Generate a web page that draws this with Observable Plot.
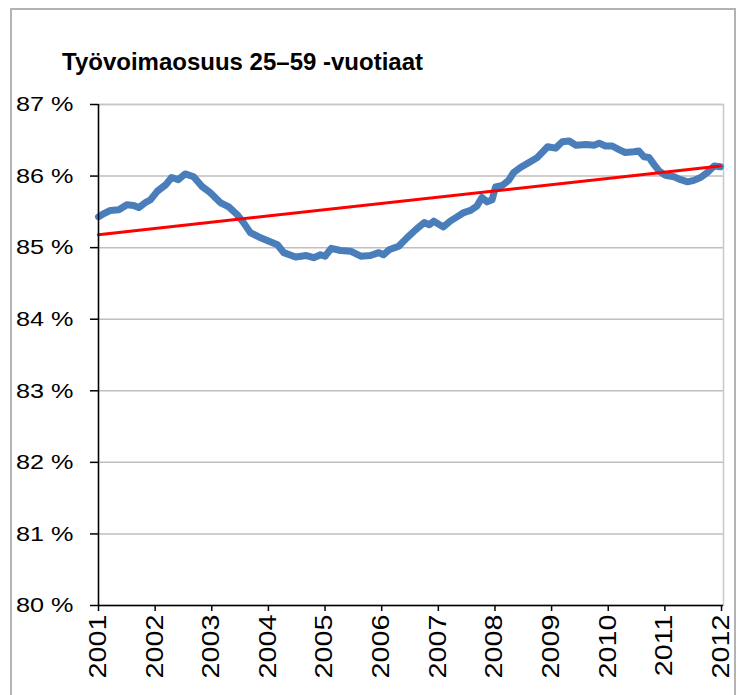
<!DOCTYPE html>
<html>
<head>
<meta charset="utf-8">
<script src="https://cdn.jsdelivr.net/npm/d3@7"></script>
<script src="https://cdn.jsdelivr.net/npm/@observablehq/plot@0.6"></script>
<style>
  html, body { margin: 0; padding: 0; background: #fff; }
  #wrap { position: relative; width: 738px; height: 695px; overflow: hidden; background: #fff; }
  #title { height: 88px; box-sizing: border-box; padding: 47px 0 0 62px; font: bold 24px/30px "Liberation Sans", Arial, sans-serif; color: #000; white-space: nowrap; }
  #border { position: absolute; left: 10px; top: 8px; width: 726px; height: 700px; box-sizing: border-box; border: 2px solid #b3b3b3; pointer-events: none; }
  svg { display: block; }
</style>
</head>
<body>
<div id="wrap">
  <div id="title">Työvoimaosuus 25–59 -vuotiaat</div>
  <div id="chart"></div>
  <div id="border"></div>
</div>
<script>
const title = "Työvoimaosuus 25–59 -vuotiaat";
const xTicks = [2001, 2002, 2003, 2004, 2005, 2006, 2007, 2008, 2009, 2010, 2011, 2012];
const yTicks = [80, 81, 82, 83, 84, 85, 86, 87];

const years = [
  2001.00, 2001.06, 2001.21, 2001.36, 2001.50, 2001.62, 2001.71, 2001.83, 2001.92,
  2002.04, 2002.19, 2002.29, 2002.41, 2002.53, 2002.68, 2002.82, 2002.97,
  2003.15, 2003.30, 2003.45, 2003.56, 2003.68, 2003.83,
  2004.01, 2004.16, 2004.27, 2004.48, 2004.67, 2004.80, 2004.92,
  2005.00, 2005.11, 2005.27, 2005.45, 2005.63, 2005.80, 2005.95,
  2006.03, 2006.13, 2006.30, 2006.45, 2006.60, 2006.75, 2006.84, 2006.92,
  2007.00, 2007.09, 2007.21, 2007.33, 2007.45, 2007.57, 2007.68, 2007.77, 2007.86, 2007.95,
  2008.01, 2008.13, 2008.24, 2008.33, 2008.45, 2008.60, 2008.75, 2008.93,
  2009.07, 2009.19, 2009.31, 2009.43, 2009.61, 2009.75, 2009.84, 2009.95,
  2010.07, 2010.19, 2010.30, 2010.45, 2010.54, 2010.63, 2010.72, 2010.81, 2010.90,
  2011.01, 2011.16, 2011.28, 2011.40, 2011.51, 2011.63, 2011.75, 2011.87, 2011.98
];
const values = [
  85.43, 85.46, 85.52, 85.53, 85.60, 85.59, 85.56, 85.63, 85.67,
  85.79, 85.88, 85.98, 85.95, 86.03, 85.99, 85.86, 85.77,
  85.63, 85.57, 85.46, 85.35, 85.21, 85.15,
  85.09, 85.04, 84.93, 84.87, 84.89, 84.86, 84.90,
  84.88, 84.99, 84.96, 84.95, 84.88, 84.89, 84.93,
  84.90, 84.97, 85.02, 85.14, 85.25, 85.35, 85.32, 85.37,
  85.33, 85.29, 85.37, 85.43, 85.49, 85.52, 85.58, 85.70, 85.64, 85.67,
  85.85, 85.87, 85.94, 86.05, 86.12, 86.19, 86.26, 86.41,
  86.39, 86.48, 86.49, 86.43, 86.44, 86.43, 86.46, 86.42,
  86.42, 86.37, 86.33, 86.34, 86.35, 86.27, 86.26, 86.16, 86.07,
  86.01, 85.99, 85.95, 85.92, 85.94, 85.98, 86.05, 86.14, 86.13
];
const trendYears = [2001.00, 2011.98];
const trendValues = [85.18, 86.14];

const series = years.map((y, i) => ({year: y, value: values[i]}));
const trend = trendYears.map((y, i) => ({year: y, value: trendValues[i]}));

const chart = Plot.plot({
  width: 738,
  height: 607,
  marginLeft: 98,
  marginRight: 15,
  marginTop: 16,
  marginBottom: 90,
  style: {fontFamily: "'Liberation Sans', Arial, sans-serif", fontSize: "22px", color: "#000", background: "transparent", overflow: "visible"},
  x: {domain: [2001, 2012.035]},
  y: {domain: [80, 87]},
  marks: [
    Plot.gridY(yTicks, {stroke: "#bfbfbf", strokeOpacity: 1, strokeWidth: 1.5}),
    Plot.frame({stroke: "#c8c8c8", strokeWidth: 1.5}),
    Plot.line(series, {x: "year", y: "value", stroke: "#4a7ebb", strokeWidth: 7, strokeLinejoin: "round", strokeLinecap: "round"}),
    Plot.line(trend, {x: "year", y: "value", stroke: "#ff0000", strokeWidth: 3}),
    Plot.ruleX([2001], {stroke: "#000", strokeWidth: 1.5}),
    Plot.ruleY([80], {stroke: "#000", strokeWidth: 1.5}),
    Plot.axisY(yTicks, {tickFormat: d => d + " %", tickSize: 8, tickPadding: 17, strokeWidth: 1.5, fontSize: 21, label: null}),
    Plot.axisX(xTicks, {tickFormat: d => String(d), tickRotate: -90, tickSize: 6, tickPadding: 3, strokeWidth: 1.5, fontSize: 23, label: null})
  ]
});
document.getElementById("chart").appendChild(chart);

// Stretch tick labels horizontally (in their own text frame) like the reference rendering
function stretch(selector, s) {
  chart.querySelectorAll(selector).forEach(t => {
    const tr = t.getAttribute("transform") || "";
    t.setAttribute("transform", `${tr} scale(${s},1)`);
  });
}
stretch('g[aria-label="y-axis tick label"] text', 1.2);
stretch('g[aria-label="x-axis tick label"] text', 1.25);
</script>
</body>
</html>
